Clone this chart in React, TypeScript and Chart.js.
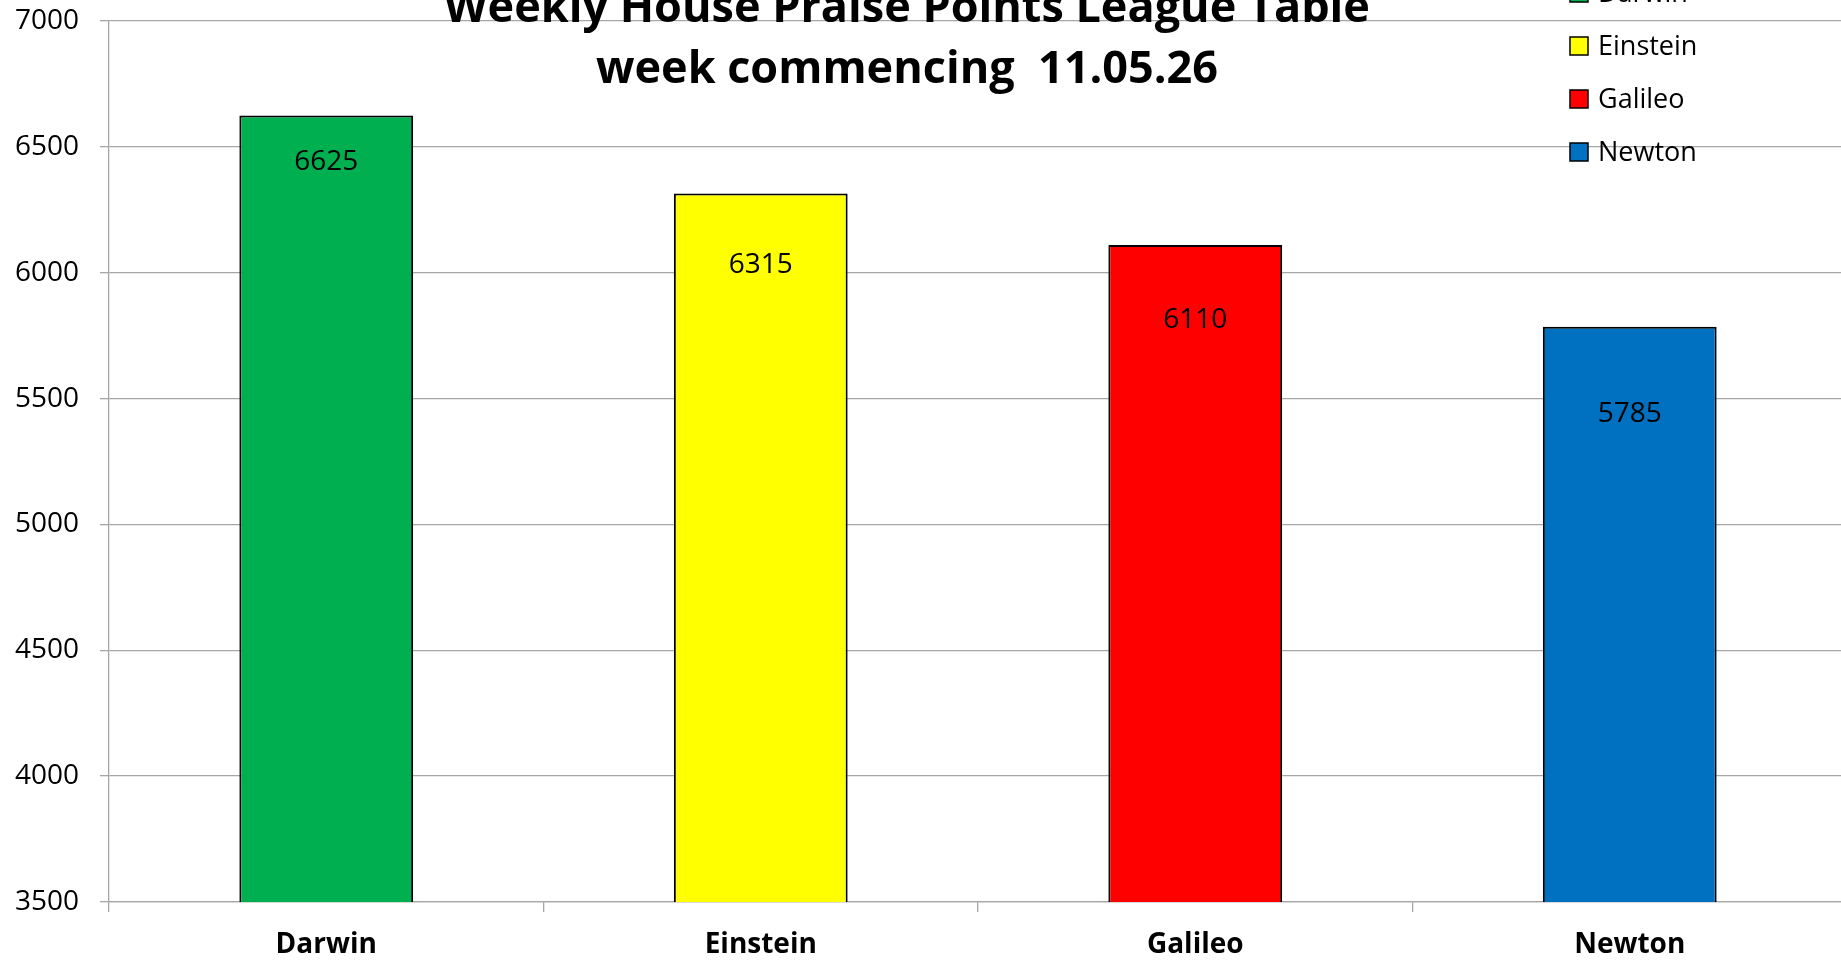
import React, { useEffect, useRef } from "react";
import { Chart, registerables } from "chart.js";

Chart.register(...registerables);

const categories = ["Darwin", "Einstein", "Galileo", "Newton"];
const points = [6625, 6315, 6110, 5785];
const barColors = ["#00B050", "#FFFF00", "#FF0000", "#0070C0"];
const yTickValues = [3500, 4000, 4500, 5000, 5500, 6000, 6500, 7000];
const titleLines = ["Weekly House Praise Points League Table", "week commencing  11.05.26"];

const CANVAS_W = 1870;
const CANVAS_H = 961;
const FONT = "'Open Sans', 'Noto Sans', sans-serif";

// label distance (px) below each bar top, as laid out in the reference
const labelDrop = [47, 72, 75, 87];

const overlayPlugin = {
  id: "overlay",
  afterDatasetsDraw(chart: any) {
    const ctx = chart.ctx as CanvasRenderingContext2D;
    const meta = chart.getDatasetMeta(0);
    ctx.save();
    // value labels
    ctx.fillStyle = "#000";
    ctx.font = `28px ${FONT}`;
    ctx.textAlign = "center";
    ctx.textBaseline = "middle";
    meta.data.forEach((bar: any, i: number) => {
      ctx.fillText(String(points[i]), bar.x, bar.y + labelDrop[i]);
    });
    // title
    ctx.font = `bold 45px ${FONT}`;
    ctx.textBaseline = "alphabetic";
    ctx.fillText(titleLines[0], 907, 22);
    ctx.fillText(titleLines[1], 907, 83);
    // legend
    ctx.font = `27px ${FONT}`;
    ctx.textAlign = "left";
    ctx.textBaseline = "middle";
    categories.forEach((c, i) => {
      const cy = -7 + i * 53;
      ctx.fillStyle = barColors[i];
      ctx.fillRect(1570, cy - 9, 18, 18);
      ctx.strokeStyle = "#000";
      ctx.lineWidth = 1.5;
      ctx.strokeRect(1570, cy - 9, 18, 18);
      ctx.fillStyle = "#000";
      ctx.fillText(c, 1598, cy + 1);
    });
    ctx.restore();
  },
};

export default function App() {
  const ref = useRef<HTMLCanvasElement | null>(null);
  useEffect(() => {
    document.body.style.margin = "0";
    const canvas = ref.current!;
    Chart.defaults.font.family = FONT;
    const chart = new Chart(canvas, {
      type: "bar",
      data: {
        labels: categories,
        datasets: [
          {
            data: points,
            backgroundColor: barColors,
            borderColor: "#000",
            borderWidth: 2,
            categoryPercentage: 1,
            barPercentage: 0.4,
            borderSkipped: "bottom",
          },
        ],
      },
      options: {
        animation: false,
        responsive: false,
        devicePixelRatio: 1,
        layout: { padding: { left: 0, top: 21, right: CANVAS_W - 1847, bottom: 0 } },
        plugins: {
          legend: { display: false },
          title: { display: false },
          tooltip: { enabled: false },
        },
        scales: {
          x: {
            grid: {
              display: true,
              offset: true,
              drawOnChartArea: false,
              drawTicks: true,
              tickLength: 10,
              color: "#a6a6a6",
              lineWidth: 1.3,
            },
            border: { display: true, color: "#a6a6a6", width: 1.3 },
            ticks: {
              color: "#000",
              font: { size: 28, weight: "bold", family: FONT },
              padding: 16,
            },
            afterFit(scale: any) {
              scale.height = CANVAS_H - 902;
              scale.paddingLeft = 0;
              scale.paddingRight = 0;
            },
          },
          y: {
            min: 3500,
            max: 7000,
            afterBuildTicks(scale: any) {
              scale.ticks = yTickValues.map((v) => ({ value: v }));
            },
            grid: {
              color: "#a6a6a6",
              lineWidth: 1.3,
              tickLength: 9,
              drawTicks: true,
            },
            border: { display: true, color: "#a6a6a6", width: 1.3 },
            ticks: {
              color: "#000",
              font: { size: 28, family: FONT },
              padding: 21,
              callback: (v: any) => String(v),
            },
            afterFit(scale: any) {
              scale.width = 109;
              scale.paddingTop = 0;
              scale.paddingBottom = 0;
            },
          },
        },
      },
      plugins: [overlayPlugin],
    });
    return () => chart.destroy();
  }, []);
  return (
    <div style={{ width: 1841, height: 961, overflow: "hidden", background: "#fff" }}>
      <canvas ref={ref} width={CANVAS_W} height={CANVAS_H} style={{ display: "block" }} />
    </div>
  );
}
